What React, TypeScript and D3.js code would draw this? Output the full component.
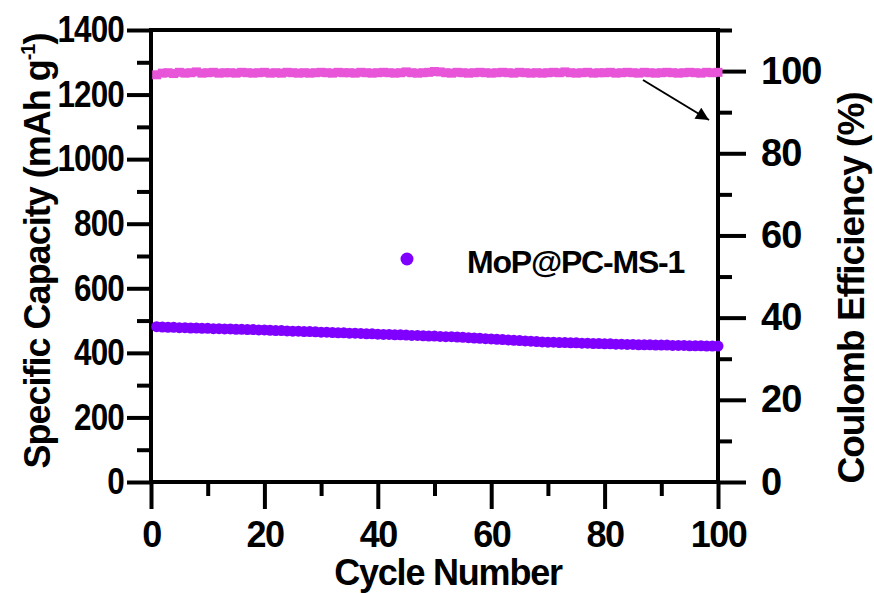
import React, { useEffect, useRef } from 'react';
import * as d3 from 'd3';

// specific capacity (mAh g-1), cycles 1..100
const capacity = [
  481, 480, 479, 479, 478, 478, 477, 477, 476, 476,
  475, 475, 474, 474, 473, 473, 472, 472, 471, 471,
  470, 469, 469, 468, 467, 467, 466, 466, 465, 464,
  464, 463, 462, 462, 461, 461, 460, 459, 459, 458,
  457, 457, 456, 456, 455, 454, 454, 453, 452, 452,
  451, 450, 450, 449, 448, 447, 446, 445, 444, 443,
  442, 441, 440, 439, 438, 437, 436, 435, 434, 433,
  433, 432, 432, 431, 431, 430, 430, 429, 429, 428,
  428, 427, 427, 426, 426, 425, 425, 425, 424, 424,
  424, 423, 423, 423, 422, 422, 422, 421, 421, 421,
];

// coulomb efficiency (%), cycles 1..100
const efficiency = [
  99.1, 99.5, 99.6, 99.4, 99.7, 99.5, 99.6, 99.8, 99.5, 99.6,
  99.7, 99.5, 99.6, 99.6, 99.5, 99.7, 99.6, 99.5, 99.6, 99.7,
  99.5, 99.6, 99.5, 99.7, 99.6, 99.5, 99.6, 99.5, 99.6, 99.7,
  99.6, 99.5, 99.7, 99.6, 99.6, 99.5, 99.7, 99.6, 99.5, 99.6,
  99.7, 99.6, 99.5, 99.6, 99.8, 99.6, 99.5, 99.6, 99.7, 99.9,
  99.8, 99.6, 99.5, 99.7, 99.6, 99.5, 99.6, 99.7, 99.6, 99.5,
  99.6, 99.7, 99.6, 99.5, 99.7, 99.6, 99.5, 99.6, 99.5, 99.6,
  99.7, 99.6, 99.8, 99.6, 99.5, 99.6, 99.7, 99.5, 99.6, 99.6,
  99.7, 99.5, 99.6, 99.7, 99.6, 99.5, 99.7, 99.6, 99.5, 99.6,
  99.7, 99.6, 99.5, 99.6, 99.7, 99.6, 99.5, 99.7, 99.6, 99.7,
];

const cycles = d3.range(1, 101);
const xMajor = [0, 20, 40, 60, 80, 100];
const xMinor = [10, 30, 50, 70, 90];
const leftMajor = [0, 200, 400, 600, 800, 1000, 1200, 1400];
const leftMinor = [100, 300, 500, 700, 900, 1100, 1300];
const rightMajor = [0, 20, 40, 60, 80, 100];
const rightMinor = [10, 30, 50, 70, 90, 110];
const seriesName = 'MoP@PC-MS-1';

const W = 874, H = 593;
const m = { left: 151, right: 718, top: 30, bottom: 482 };
const FONT = '"Liberation Sans", Arial, sans-serif';

function Chart() {
  const svgRef = useRef(null);

  useEffect(() => {
    const svg = d3.select(svgRef.current);
    svg.selectAll('*').remove();

    const x = d3.scaleLinear().domain([0, 100]).range([m.left, m.right]);
    const yL = d3.scaleLinear().domain([0, 1400]).range([m.bottom, m.top]);
    const yR = d3.scaleLinear().domain([0, 110]).range([m.bottom, m.top]);

    const axisStyle = (size, spacing) => (g) => {
      g.select('.domain').remove();
      g.selectAll('line').attr('stroke', '#000').attr('stroke-width', 4);
      g.selectAll('text')
        .attr('font-family', FONT)
        .attr('font-weight', 'bold')
        .attr('font-size', size)
        .attr('letter-spacing', spacing)
        .attr('fill', '#000');
    };

    // bottom axis
    svg.append('g').attr('transform', `translate(0,${m.bottom})`)
      .call(d3.axisBottom(x).tickValues(xMajor).tickSize(27).tickPadding(12).tickFormat(d3.format('d')))
      .call(axisStyle(36, -1.5));
    svg.append('g').attr('transform', `translate(0,${m.bottom})`)
      .call(d3.axisBottom(x).tickValues(xMinor).tickSize(14).tickFormat(() => ''))
      .call(axisStyle(36, 0));

    // left axis (labels a little condensed, as in the original)
    const sx = 0.85;
    svg.append('g').attr('transform', `translate(${m.left},0)`)
      .call(d3.axisLeft(yL).tickValues(leftMajor).tickSize(24).tickPadding(2).tickFormat(d3.format('d')))
      .call(axisStyle(37, -1))
      .call((g) => g.selectAll('text').attr('x', -27 / sx).attr('transform', `scale(${sx},1)`));
    svg.append('g').attr('transform', `translate(${m.left},0)`)
      .call(d3.axisLeft(yL).tickValues(leftMinor).tickSize(14).tickFormat(() => ''))
      .call(axisStyle(36, 0));

    // right axis
    svg.append('g').attr('transform', `translate(${m.right},0)`)
      .call(d3.axisRight(yR).tickValues(rightMajor).tickSize(28).tickPadding(15).tickFormat(d3.format('d')))
      .call(axisStyle(38, -1));
    svg.append('g').attr('transform', `translate(${m.right},0)`)
      .call(d3.axisRight(yR).tickValues(rightMinor).tickSize(14).tickFormat(() => ''))
      .call(axisStyle(36, 0));

    // frame
    svg.append('rect')
      .attr('x', m.left).attr('y', m.top)
      .attr('width', m.right - m.left).attr('height', m.bottom - m.top)
      .attr('fill', 'none').attr('stroke', '#000').attr('stroke-width', 4);

    // coulomb efficiency
    svg.append('g').selectAll('rect')
      .data(cycles)
      .join('rect')
      .attr('x', (d) => x(d) - 4.5)
      .attr('y', (d, i) => yR(efficiency[i]) - 4.5)
      .attr('width', 9).attr('height', 9)
      .attr('fill', '#e855d8');

    // capacity
    svg.append('g').selectAll('circle')
      .data(cycles)
      .join('circle')
      .attr('cx', (d) => x(d))
      .attr('cy', (d, i) => yL(capacity[i]))
      .attr('r', 5.5)
      .attr('fill', '#7f00ff');

    // arrow pointing to right axis
    svg.append('defs').append('marker')
      .attr('id', 'arrowhead')
      .attr('viewBox', '0 0 10 10')
      .attr('refX', 10).attr('refY', 5)
      .attr('markerWidth', 20).attr('markerHeight', 13)
      .attr('markerUnits', 'userSpaceOnUse')
      .attr('orient', 'auto')
      .append('path').attr('d', 'M0,0L10,5L0,10Z').attr('fill', '#000');
    svg.append('line')
      .attr('x1', 643).attr('y1', 80).attr('x2', 709).attr('y2', 120)
      .attr('stroke', '#000').attr('stroke-width', 2)
      .attr('marker-end', 'url(#arrowhead)');

    // legend
    svg.append('circle').attr('cx', 407).attr('cy', 259).attr('r', 6.5).attr('fill', '#7f00ff');
    svg.append('text').attr('x', 467).attr('y', 273)
      .attr('font-family', FONT).attr('font-weight', 'bold').attr('font-size', 32)
      .attr('letter-spacing', -1.2)
      .text(seriesName);

    // axis titles
    svg.append('text')
      .attr('x', 448).attr('y', 585)
      .attr('text-anchor', 'middle')
      .attr('font-family', FONT).attr('font-weight', 'bold').attr('font-size', 36)
      .attr('letter-spacing', -1.2)
      .text('Cycle Number');

    const lt = svg.append('text')
      .attr('transform', 'translate(50,251) rotate(-90)')
      .attr('text-anchor', 'middle')
      .attr('font-family', FONT).attr('font-weight', 'bold').attr('font-size', 36)
      .attr('letter-spacing', -1);
    lt.append('tspan').text('Specific Capacity (mAh g');
    lt.append('tspan').attr('font-size', 20).attr('dy', -15).text('-1');
    lt.append('tspan').attr('dy', 15).text(')');

    svg.append('text')
      .attr('transform', 'translate(864,288) rotate(-90)')
      .attr('text-anchor', 'middle')
      .attr('font-family', FONT).attr('font-weight', 'bold').attr('font-size', 37)
      .attr('letter-spacing', -1)
      .text('Coulomb Efficiency (%)');
  }, []);

  return (
    <svg ref={svgRef} width={W} height={H}
      style={{ position: 'absolute', left: 0, top: 0, background: '#fff' }} />
  );
}

export default function App() {
  return <Chart />;
}
